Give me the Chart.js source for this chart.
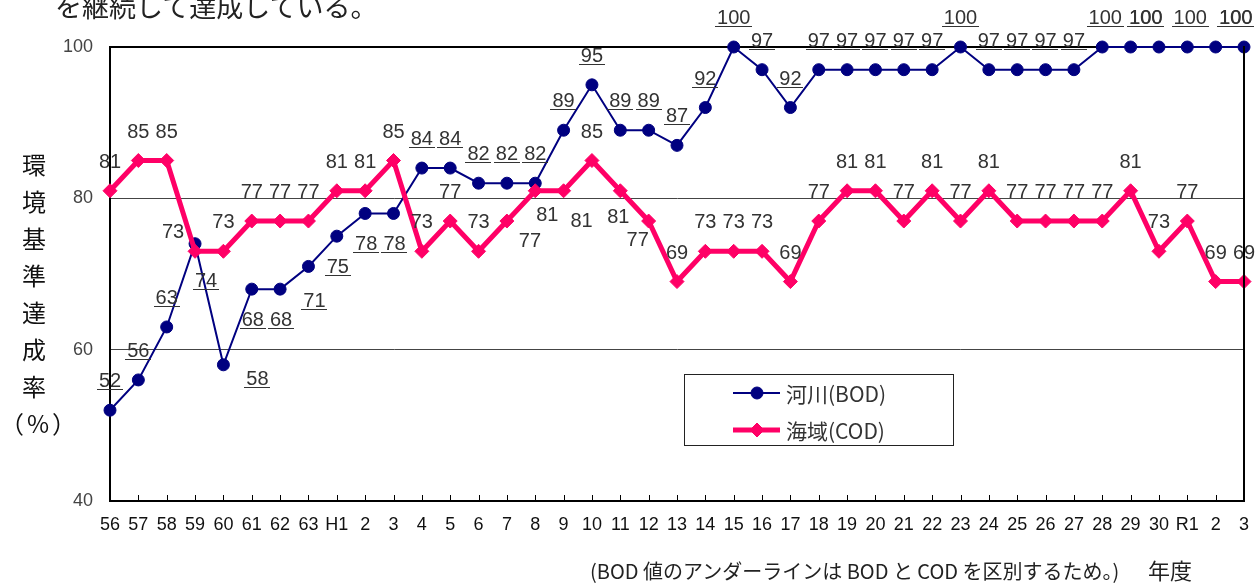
<!DOCTYPE html>
<html>
<head>
<meta charset="utf-8">
<script src="https://cdn.jsdelivr.net/npm/chart.js@4.4.1/dist/chart.umd.min.js"></script>
<style>
    html, body { margin: 0; padding: 0; background: #fff; overflow: hidden; }
    #wrap { position: relative; width: 1255px; height: 583px; }
    #mainChart { position: absolute; left: 0; top: 0; }
    .txt { position: absolute; font-family: "Noto Sans CJK JP", sans-serif; color: #222; white-space: nowrap; line-height: 1; }
</style>
</head>
<body>
<div id="wrap">
    <canvas id="mainChart" width="1255" height="583"></canvas>
    <div class="txt" style="left:55px; top:-8px; font-size:27px;">を継続して達成している。</div>
    <div class="txt" style="left:0; top:145px; width:68px; text-align:center; font-size:24px; line-height:37px; color:#111;">環<br>境<br>基<br>準<br>達<br>成<br>率<br><span style="letter-spacing:3px">（%）</span></div>
    <div class="txt" style="left:590px; top:561px; font-size:20px;">(BOD 値のアンダーラインは BOD と COD を区別するため。)</div>
    <div class="txt" style="left:1148px; top:558px; font-size:22px;">年度</div>
</div>
<script>
const years = ['56', '57', '58', '59', '60', '61', '62', '63', 'H1', '2', '3', '4', '5', '6', '7', '8', '9', '10',
    '11', '12', '13', '14', '15', '16', '17', '18', '19', '20', '21', '22', '23', '24', '25', '26', '27', '28', '29',
    '30', 'R1', '2', '3'];

// 河川(BOD)
const riverBOD = [52, 56, 63, 74, 58, 68, 68, 71, 75, 78, 78, 84, 84, 82, 82, 82, 89, 95, 89, 89, 87, 92, 100, 97,
    92, 97, 97, 97, 97, 97, 100, 97, 97, 97, 97, 100, 100, 100, 100, 100, 100];

// 海域(COD)
const seaCOD = [81, 85, 85, 73, 73, 77, 77, 77, 81, 81, 85, 73, 77, 73, 77, 81, 81, 85, 81, 77, 69, 73, 73, 73,
    69, 77, 81, 81, 77, 81, 77, 81, 77, 77, 77, 77, 81, 73, 77, 69, 69];

const yTicks = [40, 60, 80, 100];

// where each value label sits relative to its point
const bodLabelPos = ['a', 'a', 'a', 'b1', 'r1', 'b', 'b', 'b2', 'b', 'b', 'b', 'a', 'a', 'a', 'a', 'a', 'a', 'a',
    'a', 'a', 'a', 'a', 'a', 'a', 'a', 'a', 'a', 'a', 'a', 'a', 'a', 'a', 'a', 'a', 'a', 'a3', 'ar', 'al', 'a3', 'ar2', 'al2'];
const codLabelPos = ['a', 'a', 'a', 'al1', 'a', 'a', 'a', 'a', 'a', 'a', 'a', 'a', 'a', 'a', 'br', 'b3', 'b4', 'a',
    'b5', 'bl', 'a', 'a', 'a', 'a', 'a', 'a', 'a', 'a', 'a', 'a', 'a', 'a', 'a', 'a', 'a', 'a', 'a', 'a', 'a', 'a', 'a'];

const LABEL_OFFSETS = {
    a: [0, -30], b: [1, 30], b1: [11, 36], r1: [34, 13], b2: [6, 34],
    al1: [-22, -20], br: [23, 19], b3: [12, 23], b4: [18, 29], b5: [-2, 25], bl: [-11, 18],
    a3: [3, -30], ar: [15, -30], al: [-13, -30], ar2: [20, -30], al2: [-8, -30]
};

const COLORS = { BOD: '#000080', COD: '#ff0066', TEXT: '#333333' };

const valueLabels = {
    id: 'valueLabels',
    afterDatasetsDraw(chart) {
        const ctx = chart.ctx;
        ctx.save();
        ctx.font = '20px "Liberation Sans", Arial, sans-serif';
        ctx.fillStyle = COLORS.TEXT;
        ctx.textAlign = 'center';
        ctx.textBaseline = 'alphabetic';
        chart.data.datasets.forEach((ds, i) => {
            const meta = chart.getDatasetMeta(i);
            meta.data.forEach((pt, k) => {
                const [dx, dy] = LABEL_OFFSETS[ds.labelPos[k]];
                const x = pt.x + dx;
                const base = pt.y + dy + 7;
                const txt = String(ds.data[k]);
                ctx.fillText(txt, x, base);
                if (ds.underline) {
                    const w = ctx.measureText(txt).width + 4;
                    ctx.fillRect(Math.round(x - w / 2), Math.round(base + 2), Math.round(w), 1);
                }
            });
        });
        ctx.restore();
    }
};

const frameAndLegend = {
    id: 'frameAndLegend',
    afterDraw(chart) {
        const ctx = chart.ctx;
        const area = chart.chartArea;
        const xs = chart.scales.x;
        ctx.save();
        // right edge of the plot box
        ctx.strokeStyle = '#000';
        ctx.lineWidth = 2;
        ctx.beginPath();
        ctx.moveTo(area.right, area.top - 1);
        ctx.lineTo(area.right, area.bottom);
        ctx.stroke();
        // inside tick marks
        ctx.lineWidth = 1;
        ctx.beginPath();
        xs.ticks.forEach((t, i) => {
            const px = Math.round(xs.getPixelForTick(i)) + 0.5;
            ctx.moveTo(px, area.bottom);
            ctx.lineTo(px, area.bottom - 6);
        });
        ctx.stroke();

        // legend box
        const bx = 684, by = 374, bw = 269, bh = 71;
        ctx.fillStyle = '#fff';
        ctx.fillRect(bx, by, bw, bh);
        ctx.strokeStyle = '#222';
        ctx.lineWidth = 1;
        ctx.strokeRect(bx + 0.5, by + 0.5, bw, bh);
        const rows = [
            { ds: chart.data.datasets[0], y: 393 },
            { ds: chart.data.datasets[1], y: 430 }
        ];
        rows.forEach(r => {
            ctx.strokeStyle = r.ds.borderColor;
            ctx.lineWidth = r.ds.borderWidth;
            ctx.beginPath();
            ctx.moveTo(733, r.y);
            ctx.lineTo(780, r.y);
            ctx.stroke();
            ctx.fillStyle = r.ds.pointBackgroundColor;
            ctx.strokeStyle = r.ds.borderColor;
            ctx.lineWidth = r.ds.pointBorderWidth;
            Chart.helpers.drawPoint(ctx, { pointStyle: r.ds.pointStyle, radius: r.ds.pointRadius, borderWidth: r.ds.pointBorderWidth }, 757, r.y);
            ctx.fillStyle = COLORS.TEXT;
            ctx.font = '21px "Noto Sans CJK JP", sans-serif';
            ctx.textAlign = 'left';
            ctx.textBaseline = 'middle';
            ctx.fillText(r.ds.label, 786, r.y + 1);
        });
        ctx.restore();
    }
};

const ctx = document.getElementById('mainChart').getContext('2d');

new Chart(ctx, {
    type: 'line',
    data: {
        labels: years,
        datasets: [
            {
                label: '河川(BOD)',
                data: riverBOD,
                labelPos: bodLabelPos,
                underline: true,
                borderColor: COLORS.BOD,
                backgroundColor: COLORS.BOD,
                pointBackgroundColor: COLORS.BOD,
                borderWidth: 2,
                pointStyle: 'circle',
                pointRadius: 6,
                pointBorderWidth: 1,
                tension: 0,
                clip: false,
                order: 2
            },
            {
                label: '海域(COD)',
                data: seaCOD,
                labelPos: codLabelPos,
                underline: false,
                borderColor: COLORS.COD,
                backgroundColor: COLORS.COD,
                pointBackgroundColor: COLORS.COD,
                borderWidth: 5,
                pointStyle: 'rectRot',
                pointRadius: 7,
                pointBorderWidth: 1,
                tension: 0,
                clip: false,
                order: 1
            }
        ]
    },
    options: {
        responsive: false,
        animation: false,
        layout: { padding: { left: 0, top: 47, right: 11, bottom: 0 } },
        plugins: {
            legend: { display: false },
            tooltip: { enabled: false }
        },
        scales: {
            x: {
                offset: false,
                grid: { display: false, drawTicks: false },
                border: { display: true, color: '#000', width: 2 },
                ticks: {
                    autoSkip: false,
                    maxRotation: 0,
                    padding: 13,
                    color: '#111',
                    font: { family: '"Liberation Sans Narrow", "Liberation Sans", Arial, sans-serif', size: 18 }
                },
                afterFit(scale) {
                    scale.height = 82;
                    scale.paddingLeft = 0;
                    scale.paddingRight = 0;
                }
            },
            y: {
                min: 40,
                max: 100,
                afterBuildTicks(scale) { scale.ticks = yTicks.map(v => ({ value: v })); },
                grid: {
                    drawTicks: false,
                    color: c => (c.tick.value === 100 ? '#000' : '#444'),
                    lineWidth: c => (c.tick.value === 100 ? 2 : 1)
                },
                border: { display: true, color: '#000', width: 2 },
                ticks: {
                    padding: 17,
                    color: '#444',
                    font: { family: '"Liberation Sans", Arial, sans-serif', size: 18 }
                },
                afterFit(scale) {
                    scale.width = 110;
                    scale.paddingTop = 0;
                    scale.paddingBottom = 0;
                }
            }
        }
    },
    plugins: [valueLabels, frameAndLegend]
});
</script>
</body>
</html>
